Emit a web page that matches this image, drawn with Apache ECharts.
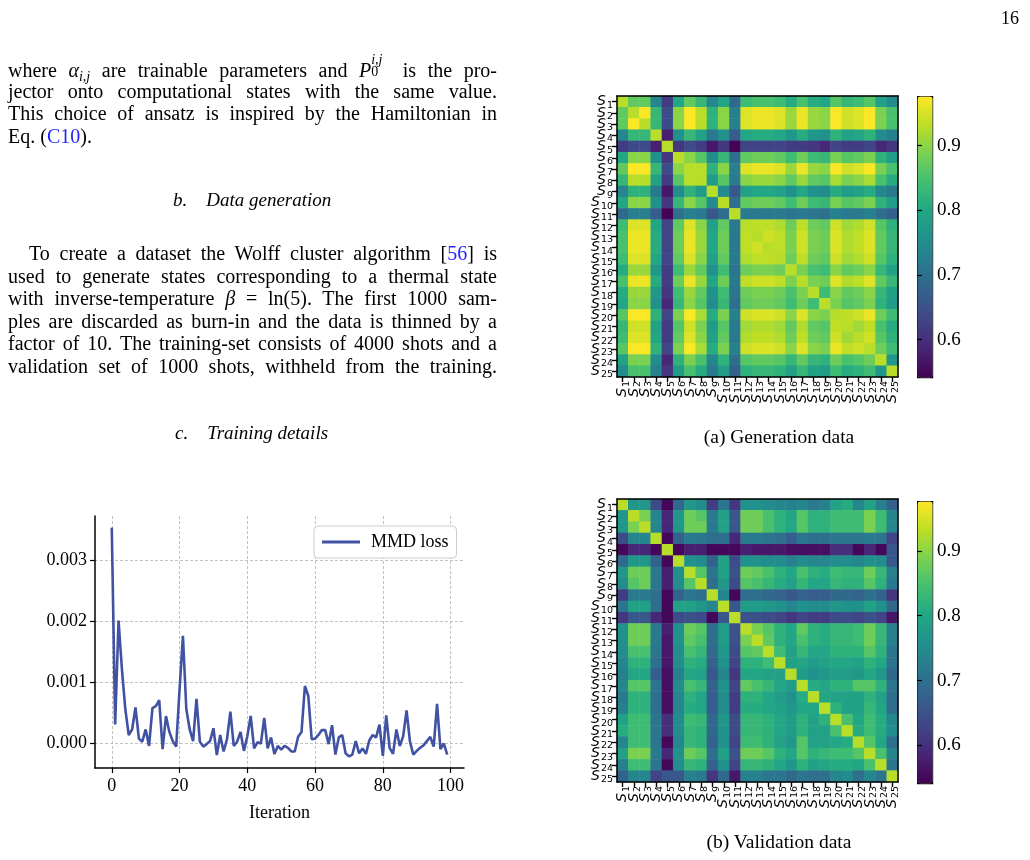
<!DOCTYPE html>
<html>
<head>
<meta charset="utf-8">
<title>MMD loss and correlation maps</title>
<script src="https://cdn.jsdelivr.net/npm/echarts@6.0.0/dist/echarts.min.js"></script>
<style>
  body { margin: 0; background: #fff; }
  #page { position: relative; width: 1030px; height: 860px; overflow: hidden; }
  #chart { position: absolute; left: 0; top: 0; width: 1030px; height: 860px; }
  .txt { position: absolute; font-family: "Liberation Serif", serif; color: #000; }
  .para { left: 8px; width: 489px; font-size: 20px; line-height: 22.6px; }
  .ln { text-align: justify; text-align-last: justify; height: 22.6px; }
  .ln.last { text-align-last: left; }
  .ind { text-indent: 21px; }
  .head { font-size: 19px; font-style: italic; }
  .cap { font-size: 19.5px; width: 300px; text-align: center; }
  .ref { color: #1f1fff; }
  .sub { font-size: 0.7em; vertical-align: -0.3em; font-style: italic; }
  .stk { display: inline-block; position: relative; width: 1.0em; height: 1em; }
  .stk .up { position: absolute; left: 0; top: -0.3em; font-size: 0.7em; font-style: italic; line-height: 1; }
  .stk .dn { position: absolute; left: 0; top: 0.6em; font-size: 0.7em; line-height: 1; }
</style>
</head>
<body>
<div id="page">
  <div id="chart"></div>

  <div class="txt" style="left:1001px; top:8px; font-size:18px;">16</div>

  <div class="txt para" style="top:57px;">
    <div class="ln">where <i>α</i><span class="sub">i,j</span> are trainable parameters and <i>P</i><span class="stk"><span class="up">i,j</span><span class="dn">0</span></span> is the pro-</div>
    <div class="ln">jector onto computational states with the same value.</div>
    <div class="ln">This choice of ansatz is inspired by the Hamiltonian in</div>
    <div class="ln last">Eq. (<span class="ref">C10</span>).</div>
  </div>

  <div class="txt head" style="left:173px; top:189px;">b.&nbsp;&nbsp;&nbsp;&nbsp;Data generation</div>

  <div class="txt para" style="top:242px;">
    <div class="ln ind">To create a dataset the Wolff cluster algorithm [<span class="ref">56</span>] is</div>
    <div class="ln">used to generate states corresponding to a thermal state</div>
    <div class="ln">with inverse-temperature <i>β</i> = ln(5). The first 1000 sam-</div>
    <div class="ln">ples are discarded as burn-in and the data is thinned by a</div>
    <div class="ln">factor of 10. The training-set consists of 4000 shots and a</div>
    <div class="ln">validation set of 1000 shots, withheld from the training.</div>
  </div>

  <div class="txt head" style="left:175px; top:422px;">c.&nbsp;&nbsp;&nbsp;&nbsp;Training details</div>

  <div class="txt cap" style="left:629px; top:426px;">(a) Generation data</div>
  <div class="txt cap" style="left:629px; top:831px;">(b) Validation data</div>
</div>

<script>
// 状态标签 S1..S25
const states = ["1","2","3","4","5","6","7","8","9","10","11","12","13","14","15","16","17","18","19","20","21","22","23","24","25"];

// 训练迭代次数与 MMD loss
const iterations = [
  0,1,2,3,4,5,6,7,8,9,10,11,12,13,14,15,16,17,18,19,
  20,21,22,23,24,25,26,27,28,29,30,31,32,33,34,35,36,37,38,39,
  40,41,42,43,44,45,46,47,48,49,50,51,52,53,54,55,56,57,58,59,
  60,61,62,63,64,65,66,67,68,69,70,71,72,73,74,75,76,77,78,79,
  80,81,82,83,84,85,86,87,88,89,90,91,92,93,94,95,96,97,98,99
];
const mmdLoss = [
  0.00353, 0.00031, 0.00201, 0.00121, 0.00056, 0.00014, 0.00023, 0.00059, 0.00008, 0.00003,
  0.00023, -0.00004, 0.00058, 0.00061, 0.00071, -0.00009, 0.00045, 0.00019, 0.00004, -0.00005,
  0.00088, 0.00176, 0.00056, 0.00023, 0.00004, 0.00073, 0.00003, -0.00005, -0.00001, 0.00004,
  0.00025, -0.00019, 0.00014, -0.00013, 0.00007, 0.00052, -0.00004, 0.00003, 0.00019, -0.00012,
  0.00012, 0.00045, -0.00008, 0.00002, 0.00000, 0.00042, -0.00008, 0.00010, -0.00017, -0.00004,
  -0.00010, -0.00004, -0.00007, -0.00013, -0.00013, 0.00011, 0.00019, 0.00094, 0.00078, 0.00007,
  0.00008, 0.00014, 0.00022, 0.00022, -0.00001, 0.00030, -0.00018, 0.00010, 0.00014, -0.00016,
  -0.00021, -0.00018, 0.00004, -0.00016, -0.00008, -0.00017, 0.00005, 0.00014, 0.00010, 0.00031,
  -0.00020, 0.00046, -0.00007, -0.00017, 0.00023, -0.00004, 0.00012, 0.00054, 0.00003, -0.00018,
  -0.00012, -0.00007, -0.00003, 0.00004, 0.00011, -0.00005, 0.00065, -0.00009, 0.00000, -0.00018
];
const lossTicksX = [0, 20, 40, 60, 80, 100];
const lossTicksY = [0, 0.001, 0.002, 0.003];

// 生成数据的相关矩阵 (a)
const genMatrix = [
  [0.93,0.87,0.87,0.74,0.62,0.80,0.87,0.83,0.74,0.80,0.69,0.84,0.85,0.85,0.84,0.81,0.85,0.81,0.80,0.86,0.83,0.84,0.86,0.79,0.75],
  [0.87,0.93,0.975,0.83,0.64,0.90,0.975,0.93,0.82,0.90,0.73,0.955,0.965,0.965,0.955,0.91,0.965,0.91,0.90,0.975,0.945,0.955,0.975,0.89,0.85],
  [0.87,0.975,0.93,0.83,0.64,0.90,0.975,0.93,0.82,0.90,0.73,0.955,0.965,0.965,0.955,0.91,0.965,0.91,0.90,0.975,0.945,0.955,0.975,0.89,0.85],
  [0.74,0.83,0.83,0.93,0.58,0.76,0.83,0.79,0.72,0.76,0.67,0.80,0.81,0.81,0.80,0.77,0.81,0.77,0.76,0.82,0.79,0.80,0.82,0.75,0.73],
  [0.62,0.64,0.64,0.58,0.93,0.61,0.64,0.62,0.57,0.61,0.545,0.63,0.63,0.63,0.63,0.62,0.62,0.61,0.59,0.63,0.62,0.62,0.63,0.59,0.61],
  [0.80,0.90,0.90,0.76,0.61,0.93,0.90,0.86,0.75,0.83,0.70,0.87,0.88,0.88,0.87,0.84,0.88,0.84,0.83,0.89,0.86,0.87,0.89,0.82,0.78],
  [0.87,0.975,0.975,0.83,0.64,0.90,0.93,0.93,0.82,0.90,0.73,0.955,0.965,0.965,0.955,0.91,0.965,0.91,0.90,0.975,0.945,0.955,0.975,0.89,0.85],
  [0.83,0.93,0.93,0.79,0.62,0.86,0.93,0.93,0.78,0.86,0.72,0.90,0.91,0.91,0.90,0.87,0.91,0.87,0.86,0.92,0.89,0.90,0.92,0.85,0.81],
  [0.74,0.82,0.82,0.72,0.57,0.75,0.82,0.78,0.93,0.75,0.66,0.79,0.80,0.80,0.79,0.76,0.80,0.76,0.75,0.81,0.78,0.79,0.81,0.74,0.72],
  [0.80,0.90,0.90,0.76,0.61,0.83,0.90,0.86,0.75,0.93,0.70,0.87,0.88,0.88,0.87,0.84,0.88,0.84,0.83,0.89,0.86,0.87,0.89,0.82,0.78],
  [0.69,0.73,0.73,0.67,0.545,0.70,0.73,0.72,0.66,0.70,0.93,0.72,0.72,0.72,0.72,0.71,0.72,0.71,0.70,0.73,0.72,0.72,0.73,0.70,0.68],
  [0.84,0.955,0.955,0.80,0.63,0.87,0.955,0.90,0.79,0.87,0.72,0.93,0.935,0.935,0.925,0.88,0.935,0.88,0.87,0.945,0.915,0.925,0.945,0.86,0.82],
  [0.85,0.965,0.965,0.81,0.63,0.88,0.965,0.91,0.80,0.88,0.72,0.935,0.93,0.945,0.935,0.89,0.945,0.89,0.88,0.955,0.925,0.935,0.955,0.87,0.83],
  [0.85,0.965,0.965,0.81,0.63,0.88,0.965,0.91,0.80,0.88,0.72,0.935,0.945,0.93,0.935,0.89,0.945,0.89,0.88,0.955,0.925,0.935,0.955,0.87,0.83],
  [0.84,0.955,0.955,0.80,0.63,0.87,0.955,0.90,0.79,0.87,0.72,0.925,0.935,0.935,0.93,0.88,0.935,0.88,0.87,0.945,0.915,0.925,0.945,0.86,0.82],
  [0.81,0.91,0.91,0.77,0.62,0.84,0.91,0.87,0.76,0.84,0.71,0.88,0.89,0.89,0.88,0.93,0.89,0.85,0.84,0.90,0.87,0.88,0.90,0.83,0.79],
  [0.85,0.965,0.965,0.81,0.62,0.88,0.965,0.91,0.80,0.88,0.72,0.935,0.945,0.945,0.935,0.89,0.93,0.89,0.88,0.955,0.925,0.935,0.955,0.87,0.83],
  [0.81,0.91,0.91,0.77,0.61,0.84,0.91,0.87,0.76,0.84,0.71,0.88,0.89,0.89,0.88,0.85,0.89,0.93,0.84,0.90,0.87,0.88,0.90,0.83,0.79],
  [0.80,0.90,0.90,0.76,0.59,0.83,0.90,0.86,0.75,0.83,0.70,0.87,0.88,0.88,0.87,0.84,0.88,0.84,0.93,0.89,0.86,0.87,0.89,0.82,0.78],
  [0.86,0.975,0.975,0.82,0.63,0.89,0.975,0.92,0.81,0.89,0.73,0.945,0.955,0.955,0.945,0.90,0.955,0.90,0.89,0.93,0.935,0.945,0.965,0.88,0.84],
  [0.83,0.945,0.945,0.79,0.62,0.86,0.945,0.89,0.78,0.86,0.72,0.915,0.925,0.925,0.915,0.87,0.925,0.87,0.86,0.935,0.93,0.915,0.935,0.85,0.81],
  [0.84,0.955,0.955,0.80,0.62,0.87,0.955,0.90,0.79,0.87,0.72,0.925,0.935,0.935,0.925,0.88,0.935,0.88,0.87,0.945,0.915,0.93,0.945,0.86,0.82],
  [0.86,0.975,0.975,0.82,0.63,0.89,0.975,0.92,0.81,0.89,0.73,0.945,0.955,0.955,0.945,0.90,0.955,0.90,0.89,0.965,0.935,0.945,0.93,0.88,0.84],
  [0.79,0.89,0.89,0.75,0.59,0.82,0.89,0.85,0.74,0.82,0.70,0.86,0.87,0.87,0.86,0.83,0.87,0.83,0.82,0.88,0.85,0.86,0.88,0.93,0.77],
  [0.75,0.85,0.85,0.73,0.61,0.78,0.85,0.81,0.72,0.78,0.68,0.82,0.83,0.83,0.82,0.79,0.83,0.79,0.78,0.84,0.81,0.82,0.84,0.77,0.93]
];

// 验证数据的相关矩阵 (b)
const valMatrix = [
  [0.93,0.77,0.77,0.64,0.55,0.69,0.77,0.75,0.62,0.71,0.61,0.76,0.76,0.75,0.74,0.73,0.74,0.72,0.73,0.79,0.81,0.74,0.79,0.73,0.68],
  [0.77,0.93,0.89,0.74,0.59,0.77,0.88,0.86,0.72,0.79,0.66,0.88,0.88,0.85,0.82,0.80,0.86,0.82,0.82,0.84,0.84,0.84,0.89,0.84,0.74],
  [0.77,0.89,0.93,0.74,0.59,0.77,0.88,0.88,0.72,0.79,0.66,0.88,0.88,0.85,0.82,0.80,0.86,0.82,0.82,0.84,0.84,0.84,0.89,0.84,0.74],
  [0.64,0.74,0.74,0.93,0.55,0.68,0.72,0.71,0.70,0.70,0.59,0.72,0.72,0.71,0.70,0.67,0.71,0.70,0.70,0.71,0.71,0.71,0.72,0.71,0.63],
  [0.55,0.59,0.59,0.55,0.93,0.55,0.58,0.58,0.55,0.55,0.55,0.58,0.57,0.57,0.57,0.56,0.56,0.56,0.56,0.60,0.60,0.55,0.59,0.55,0.66],
  [0.69,0.77,0.77,0.68,0.55,0.93,0.76,0.75,0.68,0.79,0.64,0.76,0.76,0.75,0.75,0.73,0.75,0.74,0.74,0.75,0.75,0.74,0.76,0.75,0.66],
  [0.77,0.88,0.88,0.72,0.58,0.76,0.93,0.86,0.71,0.79,0.65,0.88,0.87,0.85,0.82,0.80,0.85,0.82,0.81,0.84,0.83,0.83,0.88,0.83,0.73],
  [0.75,0.86,0.88,0.71,0.58,0.75,0.86,0.93,0.70,0.77,0.64,0.86,0.85,0.83,0.81,0.79,0.83,0.80,0.80,0.83,0.82,0.82,0.86,0.82,0.72],
  [0.62,0.72,0.72,0.70,0.55,0.68,0.71,0.70,0.93,0.74,0.55,0.70,0.70,0.69,0.68,0.66,0.68,0.67,0.67,0.69,0.69,0.68,0.70,0.68,0.61],
  [0.71,0.79,0.79,0.70,0.55,0.79,0.79,0.77,0.74,0.93,0.66,0.78,0.78,0.77,0.76,0.74,0.76,0.75,0.75,0.77,0.76,0.76,0.79,0.76,0.69],
  [0.61,0.66,0.66,0.59,0.55,0.64,0.65,0.64,0.55,0.66,0.93,0.65,0.65,0.64,0.63,0.61,0.63,0.62,0.62,0.64,0.64,0.63,0.65,0.63,0.57],
  [0.76,0.88,0.88,0.72,0.58,0.76,0.88,0.86,0.70,0.78,0.65,0.93,0.89,0.86,0.82,0.80,0.87,0.82,0.81,0.83,0.83,0.84,0.88,0.83,0.73],
  [0.76,0.88,0.88,0.72,0.57,0.76,0.87,0.85,0.70,0.78,0.65,0.89,0.93,0.87,0.82,0.80,0.85,0.82,0.81,0.83,0.83,0.84,0.88,0.83,0.73],
  [0.75,0.85,0.85,0.71,0.57,0.75,0.85,0.83,0.69,0.77,0.64,0.86,0.87,0.93,0.84,0.79,0.83,0.80,0.80,0.82,0.82,0.82,0.86,0.82,0.71],
  [0.74,0.82,0.82,0.70,0.57,0.75,0.82,0.81,0.68,0.76,0.63,0.82,0.82,0.84,0.93,0.79,0.80,0.78,0.79,0.80,0.80,0.79,0.82,0.80,0.71],
  [0.73,0.80,0.80,0.67,0.56,0.73,0.80,0.79,0.66,0.74,0.61,0.80,0.80,0.79,0.79,0.93,0.78,0.76,0.77,0.78,0.78,0.77,0.80,0.77,0.69],
  [0.74,0.86,0.86,0.71,0.56,0.75,0.85,0.83,0.68,0.76,0.63,0.87,0.85,0.83,0.80,0.78,0.93,0.81,0.80,0.82,0.82,0.86,0.86,0.82,0.71],
  [0.72,0.82,0.82,0.70,0.56,0.74,0.82,0.80,0.67,0.75,0.62,0.82,0.82,0.80,0.78,0.76,0.81,0.93,0.80,0.79,0.79,0.79,0.82,0.79,0.70],
  [0.73,0.82,0.82,0.70,0.56,0.74,0.81,0.80,0.67,0.75,0.62,0.81,0.81,0.80,0.79,0.77,0.80,0.80,0.93,0.82,0.79,0.79,0.83,0.80,0.70],
  [0.79,0.84,0.84,0.71,0.60,0.75,0.84,0.83,0.69,0.77,0.64,0.83,0.83,0.82,0.80,0.78,0.82,0.79,0.82,0.93,0.85,0.80,0.84,0.81,0.74],
  [0.81,0.84,0.84,0.71,0.60,0.75,0.83,0.82,0.69,0.76,0.64,0.83,0.83,0.82,0.80,0.78,0.82,0.79,0.79,0.85,0.93,0.81,0.84,0.81,0.75],
  [0.74,0.84,0.84,0.71,0.55,0.74,0.83,0.82,0.68,0.76,0.63,0.84,0.84,0.82,0.79,0.77,0.86,0.79,0.79,0.80,0.81,0.93,0.86,0.80,0.70],
  [0.79,0.89,0.89,0.72,0.59,0.76,0.88,0.86,0.70,0.79,0.65,0.88,0.88,0.86,0.82,0.80,0.86,0.82,0.83,0.84,0.84,0.86,0.93,0.85,0.74],
  [0.73,0.84,0.84,0.71,0.55,0.75,0.83,0.82,0.68,0.76,0.63,0.83,0.83,0.82,0.80,0.77,0.82,0.79,0.80,0.81,0.81,0.80,0.85,0.93,0.71],
  [0.68,0.74,0.74,0.63,0.66,0.66,0.73,0.72,0.61,0.69,0.57,0.73,0.73,0.71,0.71,0.69,0.71,0.70,0.70,0.74,0.75,0.70,0.74,0.71,0.93]
];

// 色条刻度
const cbarTicks = [0.6, 0.7, 0.8, 0.9];
const cbarMin = 0.542, cbarMax = 0.977;

const viridis = ['#440154','#482475','#414487','#355f8d','#2a788e','#21918c','#22a884','#44bf70','#7ad151','#bddf26','#fde725'];
const SERIF = '"Liberation Serif", "Times New Roman", serif';
const SANS = '"DejaVu Sans", sans-serif';

// 矩阵 -> heatmap 数据 [x, y, value]
function toCells(matrix) {
  const cells = [];
  matrix.forEach((row, i) => {
    row.forEach((v, j) => cells.push([j, i, v]));
  });
  return cells;
}

// S 加下标的标签（mathtext 风格：斜体 S）
const stateRich = {
  s: { fontFamily: SANS, fontStyle: 'italic', fontSize: 14, color: '#000' },
  n: { fontFamily: SANS, fontSize: 9.5, color: '#000', padding: [7, 0, 0, 1] }
};
function stateLabel(v) { return '{s|S}{n|' + v + '}'; }

// 热图的坐标轴（底/左带标签，顶/右只画边框）
function heatAxes(grid) {
  const frame = { show: true, lineStyle: { color: '#000', width: 1.5 } };
  const tick = { show: true, alignWithLabel: true, length: 5, lineStyle: { color: '#000', width: 1.4 } };
  const xs = [
    { type: 'category', gridIndex: grid, data: states, position: 'bottom', z: 10,
      axisLine: frame, axisTick: tick,
      axisLabel: { interval: 0, rotate: 90, margin: 4, formatter: stateLabel, rich: stateRich },
      splitLine: { show: false } },
    { type: 'category', gridIndex: grid, data: states, position: 'top', z: 10,
      axisLine: frame, axisTick: { show: false }, axisLabel: { show: false } }
  ];
  const ys = [
    { type: 'category', gridIndex: grid, data: states, inverse: true, position: 'left', z: 10,
      axisLine: frame, axisTick: tick,
      axisLabel: { interval: 0, margin: 4, formatter: stateLabel, rich: stateRich },
      splitLine: { show: false } },
    { type: 'category', gridIndex: grid, data: states, inverse: true, position: 'right', z: 10,
      axisLine: frame, axisTick: { show: false }, axisLabel: { show: false } }
  ];
  return { xs, ys };
}

// 色条的坐标轴
function cbarAxes(grid) {
  return {
    x: { type: 'value', gridIndex: grid, show: false, min: 0, max: 1 },
    y: { type: 'value', gridIndex: grid, position: 'right', min: cbarMin, max: cbarMax, z: 10,
      axisLine: { show: false },
      axisTick: { show: true, length: 5, customValues: cbarTicks, lineStyle: { color: '#000', width: 1.2 } },
      axisLabel: { customValues: cbarTicks, margin: 5, color: '#000', fontFamily: SERIF, fontSize: 19,
        formatter: v => v.toFixed(1) },
      splitLine: { show: false } }
  };
}

function renderPage() {
  const chart = echarts.init(document.getElementById('chart'));
  const hA = heatAxes(1), hB = heatAxes(2);
  const cA = cbarAxes(3), cB = cbarAxes(4);
  const dashed = { show: true, lineStyle: { color: '#b3b3b3', type: [3, 2], width: 0.8 } };

  const option = {
    animation: false,
    grid: [
      { left: 95, top: 516, width: 369, height: 252 },
      { left: 617, top: 96, width: 281, height: 281 },
      { left: 617, top: 499, width: 281, height: 283 },
      { left: 917, top: 96, width: 15, height: 281 },
      { left: 917, top: 501, width: 15, height: 282 }
    ],
    legend: {
      data: [{ name: 'MMD loss', icon: 'rect' }], left: 314, top: 526,
      padding: [7, 8, 7, 8], itemWidth: 38, itemHeight: 3, itemGap: 0,
      borderColor: '#cccccc', borderWidth: 1, borderRadius: 4, backgroundColor: '#fff',
      textStyle: { fontFamily: SERIF, fontSize: 18, color: '#000', padding: [0, 0, 0, 6] }
    },
    xAxis: [
      { type: 'value', gridIndex: 0, min: -4.95, max: 103.95,
        axisLine: { show: true, onZero: false, lineStyle: { color: '#000', width: 1.5 } },
        axisTick: { show: true, length: 5, customValues: lossTicksX, lineStyle: { color: '#000', width: 1.2 } },
        axisLabel: { customValues: lossTicksX, margin: 9, color: '#000', fontFamily: SERIF, fontSize: 18 },
        splitLine: dashed,
        name: 'Iteration', nameLocation: 'middle', nameGap: 36,
        nameTextStyle: { fontFamily: SERIF, fontSize: 18, color: '#000' } },
      hA.xs[0], hA.xs[1], hB.xs[0], hB.xs[1], cA.x, cB.x
    ],
    yAxis: [
      { type: 'value', gridIndex: 0, min: -0.0004, max: 0.00372,
        axisLine: { show: true, onZero: false, lineStyle: { color: '#000', width: 1.5 } },
        axisTick: { show: true, length: 5, customValues: lossTicksY, lineStyle: { color: '#000', width: 1.2 } },
        axisLabel: { customValues: lossTicksY, margin: 8, color: '#000', fontFamily: SERIF, fontSize: 18,
          formatter: v => v.toFixed(3) },
        splitLine: dashed },
      hA.ys[0], hA.ys[1], hB.ys[0], hB.ys[1], cA.y, cB.y
    ],
    visualMap: [
      { type: 'continuous', seriesIndex: 1, min: cbarMin, max: cbarMax, calculable: false,
        left: 917, top: 96, itemWidth: 15, itemHeight: 281, padding: 0, text: null,
        borderColor: '#000', borderWidth: 1.2, inRange: { color: viridis } },
      { type: 'continuous', seriesIndex: 2, min: cbarMin, max: cbarMax, calculable: false,
        left: 917, top: 501, itemWidth: 15, itemHeight: 282, padding: 0, text: null,
        borderColor: '#000', borderWidth: 1.2, inRange: { color: viridis } }
    ],
    series: [
      { name: 'MMD loss', type: 'line', xAxisIndex: 0, yAxisIndex: 0,
        data: iterations.map((it, i) => [it, mmdLoss[i]]),
        symbol: 'none', lineStyle: { color: '#4152a3', width: 2.6 }, itemStyle: { color: '#4152a3' } },
      { type: 'heatmap', xAxisIndex: 1, yAxisIndex: 1, data: toCells(genMatrix),
        emphasis: { disabled: true } },
      { type: 'heatmap', xAxisIndex: 3, yAxisIndex: 3, data: toCells(valMatrix),
        emphasis: { disabled: true } }
    ]
  };

  chart.setOption(option);
}

window.onload = renderPage;
</script>
</body>
</html>
